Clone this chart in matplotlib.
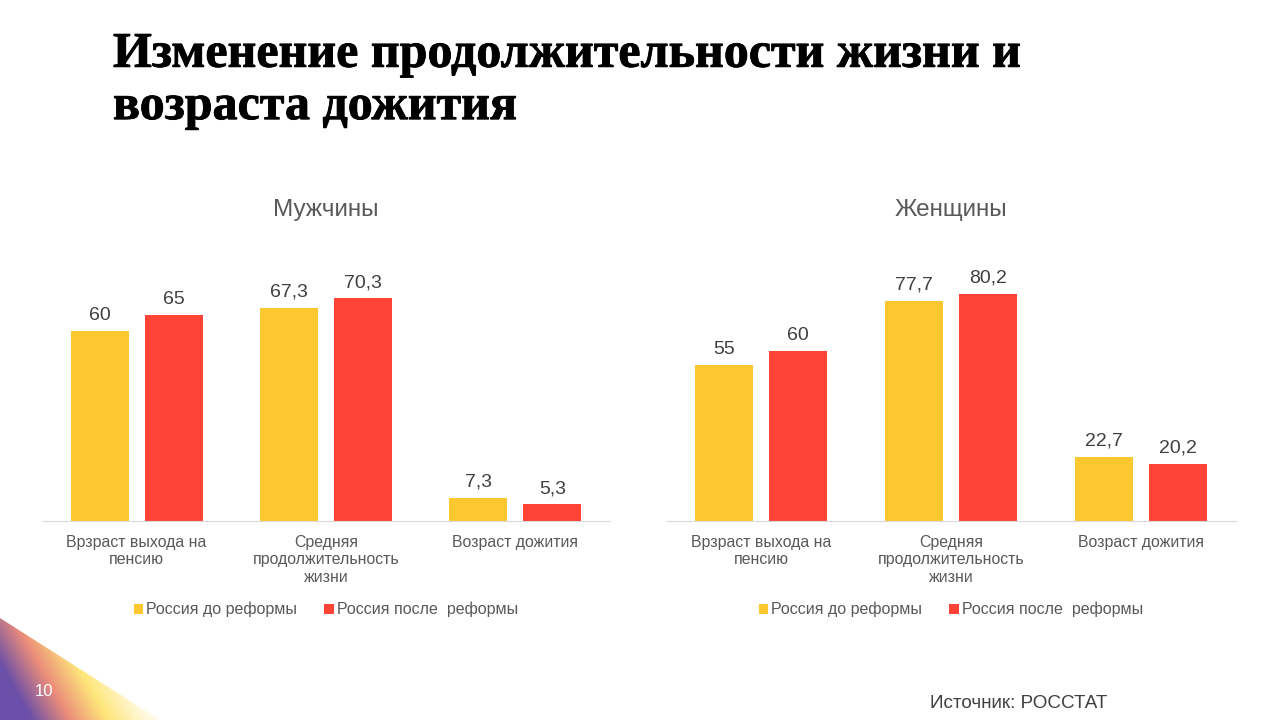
import matplotlib.pyplot as plt
import numpy as np
from matplotlib.patches import Polygon
from matplotlib.colors import LinearSegmentedColormap
import matplotlib.patheffects as pe

categories = ["Врзраст выхода на\nпенсию", "Средняя\nпродолжительность\nжизни", "Возраст дожития"]
series_names = ["Россия до реформы", "Россия после  реформы"]
men_before = [60, 67.3, 7.3]
men_after = [65, 70.3, 5.3]
women_before = [55, 77.7, 22.7]
women_after = [60, 80.2, 20.2]

yellow = "#FDC82F"
red = "#FF4337"
gray = "#595959"

plt.rcParams['font.family'] = ['Liberation Sans', 'DejaVu Sans']

fig = plt.figure(figsize=(12.8, 7.2), dpi=100)

def fmt(v):
    s = f"{v:g}"
    return s.replace(".", ",")

def draw_panel(rect, before, after, title, ymax):
    ax = fig.add_axes(rect)
    x = np.arange(len(categories))
    off = 0.195
    w = 0.306
    b1 = ax.bar(x - off, before, w, color=yellow, label=series_names[0])
    b2 = ax.bar(x + off, after, w, color=red, label=series_names[1])
    for bars, vals in ((b1, before), (b2, after)):
        for rect_, v in zip(bars, vals):
            ax.annotate(fmt(v), (rect_.get_x() + rect_.get_width() / 2, v),
                        xytext=(0, 5), textcoords="offset points",
                        ha="center", va="bottom", fontsize=14, color="#404040")
    ax.set_xlim(-0.5, 2.5)
    ax.set_ylim(0, ymax)
    ax.set_yticks([])
    ax.set_xticks(x)
    ax.set_xticklabels(categories, fontsize=11.4, color=gray, linespacing=1.2)
    ax.tick_params(axis="x", length=0, pad=10)
    for s in ("top", "right", "left"):
        ax.spines[s].set_visible(False)
    ax.spines["bottom"].set_color("#D9D9D9")
    ax.set_title(title, fontsize=17.5, color=gray, pad=0, y=1.125)
    ax.legend(loc="upper center", bbox_to_anchor=(0.5, -0.245), ncol=2,
              frameon=False, fontsize=11.5, labelcolor=gray,
              handlelength=0.6, handleheight=0.6, handletextpad=0.2,
              columnspacing=1.7)
    return ax

bottom = (720 - 521) / 720
height = 271 / 720
draw_panel([42 / 1280, bottom, 568 / 1280, height], men_before, men_after, "Мужчины", 271 / 3.17)
draw_panel([666 / 1280, bottom, 570 / 1280, height], women_before, women_after, "Женщины", 271 / 2.835)

fig.text(113 / 1280, 1 - 81 / 720, "Изменение продолжительности жизни и\nвозраста дожития",
         fontsize=36, fontweight="bold", family="Liberation Serif",
         va="center", ha="left", linespacing=1.18, color="black",
         path_effects=[pe.withStroke(linewidth=0.6, foreground="black")])

fig.text(930 / 1280, 1 - 704 / 720, "Источник: РОССТАТ", fontsize=13.6,
         color="#404040", va="center", ha="left")

# decorative gradient in the lower-left corner
bg = fig.add_axes([0, 0, 1, 1], zorder=-1)
bg.set_xlim(0, 1280)
bg.set_ylim(720, 0)
bg.axis("off")
gx, gy = np.meshgrid(np.linspace(0, 1, 80), np.linspace(0, 1, 60))
t = np.clip(gx * 1.1 - gy * 0.4 + 0.2, 0, 1)
cmap = LinearSegmentedColormap.from_list("corner", ["#5B3B9E", "#E9806B", "#FFE46B", "#FFF8D8", "#FFFFFF"])
im = bg.imshow(t, cmap=cmap, extent=(0, 170, 720, 610), aspect="auto", alpha=0.9)
tri = Polygon([[0, 618], [160, 720], [0, 720]], closed=True, transform=bg.transData)
im.set_clip_path(tri)
fig.text(44 / 1280, 1 - 692 / 720, "10", fontsize=12, color="white", va="center", ha="center")

fig.savefig("out.png", dpi=100)
